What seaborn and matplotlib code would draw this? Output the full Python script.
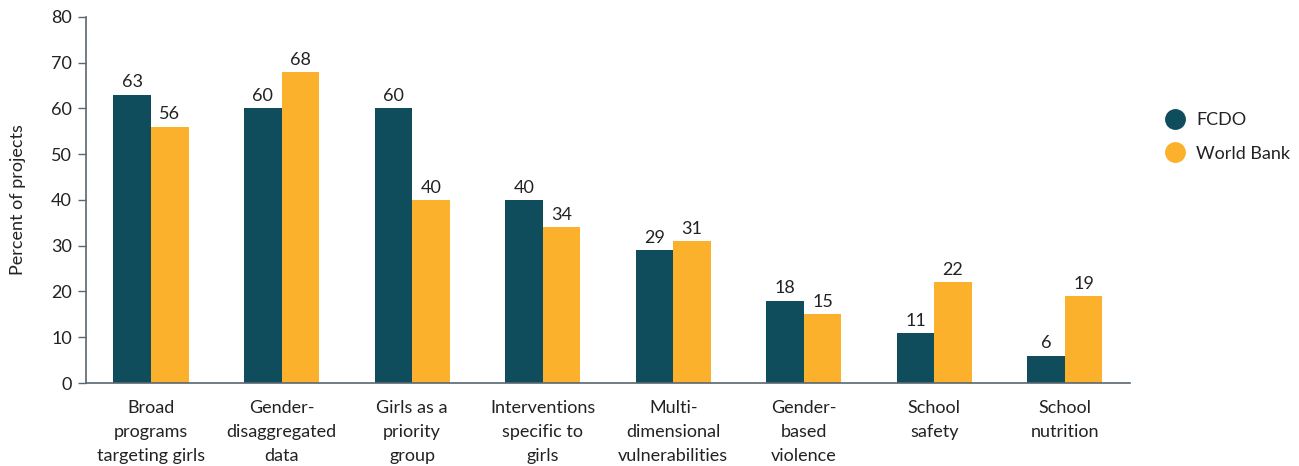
import pandas as pd
import matplotlib
matplotlib.use("Agg")
import matplotlib.pyplot as plt
from matplotlib.lines import Line2D
import seaborn as sns

# data
categories = ["Broad\nprograms\ntargeting girls", "Gender-\ndisaggregated\ndata",
              "Girls as a\npriority\ngroup", "Interventions\nspecific to\ngirls",
              "Multi-\ndimensional\nvulnerabilities", "Gender-\nbased\nviolence",
              "School\nsafety", "School\nnutrition"]
fcdo = [63, 60, 60, 40, 29, 18, 11, 6]
world_bank = [56, 68, 40, 34, 31, 15, 22, 19]
series = ["FCDO", "World Bank"]
colors = {"FCDO": "#0f4c5c", "World Bank": "#fbb12b"}

df = pd.DataFrame({
    "category": categories * 2,
    "value": fcdo + world_bank,
    "source": ["FCDO"] * len(fcdo) + ["World Bank"] * len(world_bank),
})

sns.set_style("white")
plt.rcParams["font.family"] = ["Lato", "DejaVu Sans"]
fs = 13

fig = plt.figure(figsize=(12.99, 4.66), dpi=100)
ax = fig.add_axes([0.066, 0.178, 0.804, 0.786])

sns.barplot(data=df, x="category", y="value", hue="source", palette=colors,
            width=0.575, gap=0, saturation=1, linewidth=0, ax=ax, legend=False)

for cont in ax.containers:
    ax.bar_label(cont, padding=3, fontsize=fs, color="#222222")

ax.set_xlim(-0.5, 7.5)
ax.set_ylim(0, 80)
ax.set_yticks(range(0, 81, 10))
ax.set_xticks(range(len(categories)), categories, linespacing=1.63)
ax.set_xlabel("")
ax.set_ylabel("Percent of projects", fontsize=fs, color="#222222", labelpad=18)
ax.tick_params(axis="y", length=6, width=1, color="#5a6670", labelsize=fs,
               labelcolor="#222222", pad=4, left=True)
ax.tick_params(axis="x", length=0, labelsize=fs, labelcolor="#222222", pad=12)

sns.despine(ax=ax)
for s in ["left", "bottom"]:
    ax.spines[s].set_color("#5a6670")
    ax.spines[s].set_linewidth(1.2)

handles = [Line2D([0], [0], marker="o", linestyle="", markersize=14,
                  markerfacecolor=colors[s], markeredgecolor=colors[s]) for s in series]
fig.legend(handles, series, loc="center left", bbox_to_anchor=(0.878, 0.706),
           frameon=False, fontsize=fs, handletextpad=0.2, labelspacing=0.95,
           labelcolor="#222222")

fig.savefig("out.png", dpi=100)
